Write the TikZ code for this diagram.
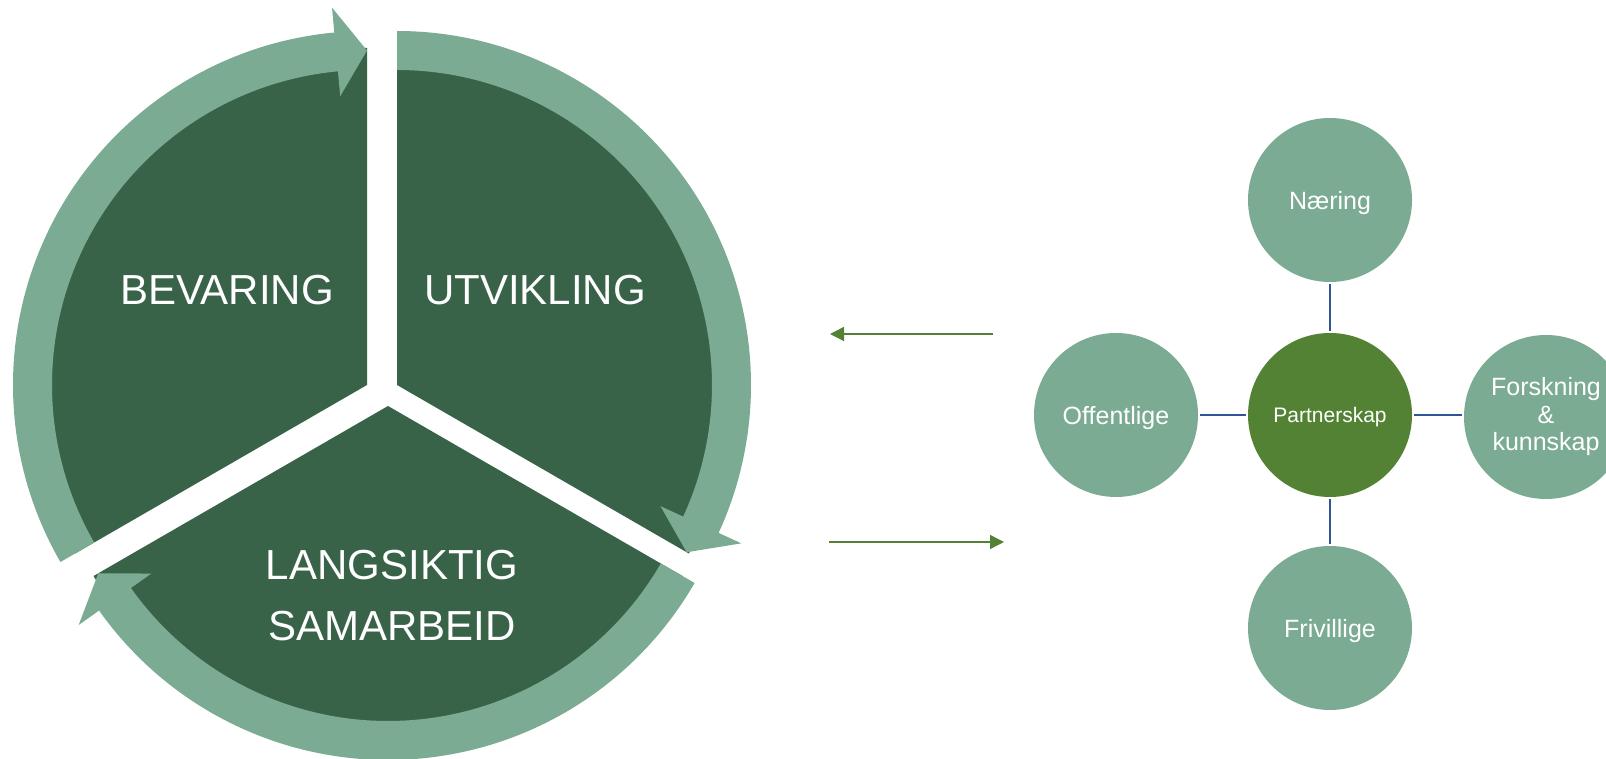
\documentclass[tikz,border=0pt]{standalone}
\usepackage{fontspec}
\setmainfont{Liberation Sans}
\usetikzlibrary{arrows.meta}
\definecolor{darkg}{RGB}{56,99,73}
\definecolor{lightg}{RGB}{123,171,146}
\definecolor{midg}{RGB}{84,130,53}
\definecolor{bluel}{RGB}{47,85,151}
\begin{document}
\begin{tikzpicture}[x=1pt,y=1pt,
  sector/.style={fill=darkg},
  ringarrow/.style={fill=lightg},
  biglabel/.style={text=white, font=\fontsize{42}{61}\selectfont, inner sep=0pt, align=center},
  partner/.style={circle, fill=lightg, minimum size=164pt, inner sep=0pt, text=white, font=\fontsize{25}{27.5}\selectfont, align=center},
  oneline/.style={text depth=0pt},
  hub/.style={partner, fill=midg, font=\fontsize{21}{23}\selectfont},
  link/.style={draw=bluel, line width=2.4pt, shorten >=2pt, shorten <=2pt},
  flow/.style={draw=midg, line width=1.4pt, -{Triangle[length=14pt,width=14pt]}}
]
\useasboundingbox (0,0) rectangle (1606,759);
% sectors
\begin{scope}[shift={(367,374)}]
  \fill[sector] (0,0) -- (90:337) arc[start angle=90,end angle=210,radius=337] -- cycle;
\end{scope}
\begin{scope}[shift={(397,374)}]
  \fill[sector] (0,0) -- (-30:337) arc[start angle=-30,end angle=90,radius=337] -- cycle;
\end{scope}
\begin{scope}[shift={(388,353)}]
  \fill[sector] (0,0) -- (210:340) arc[start angle=210,end angle=330,radius=340] -- cycle;
\end{scope}
% ring arrows
\begin{scope}[shift={(367,374)}]
  \fill[ringarrow] (210:354) arc[start angle=210,end angle=95.3,radius=354] -- (95.3:379) -- (90:334.5) -- (95.3:290) -- (95.3:315) arc[start angle=95.3,end angle=210,radius=315] -- cycle;
\end{scope}
\begin{scope}[shift={(397,374)}]
  \fill[ringarrow] (90:354) arc[start angle=90,end angle=-24.7,radius=354] -- (-24.7:379) -- (-30:334.5) -- (-24.7:290) -- (-24.7:315) arc[start angle=-24.7,end angle=90,radius=315] -- cycle;
\end{scope}
\begin{scope}[shift={(388,353)}]
  \fill[ringarrow] (330:354) arc[start angle=330,end angle=215.3,radius=354] -- (215.3:379) -- (210:334.5) -- (215.3:290) -- (215.3:315) arc[start angle=215.3,end angle=330,radius=315] -- cycle;
\end{scope}
% labels
\node[biglabel, anchor=base] (bev) at (227,454) {BEVARING};
\node[biglabel, anchor=base] (utv) at (535,454) {UTVIKLING};
\node[biglabel, anchor=base] (lang) at (392,118) {LANGSIKTIG\\SAMARBEID};
% flow arrows
\coordinate (a1s) at (993,425);
\coordinate (a1e) at (830,425);
\coordinate (a2s) at (829,217);
\coordinate (a2e) at (1004,217);
\draw[flow] (a1s) -- (a1e);
\draw[flow] (a2s) -- (a2e);
% partnership
\node[hub, oneline] (hub) at (1330,344) {Partnerskap};
\node[partner, oneline] (naer) at (1330,559) {Næring};
\node[partner, oneline] (off) at (1116,344) {Offentlige};
\node[partner] (fors) at (1546,342) {Forskning\\\&\\kunnskap};
\node[partner, oneline] (friv) at (1330,131) {Frivillige};
\draw[link] (naer) -- (hub);
\draw[link] (off) -- (hub);
\draw[link] (hub.east) -- (hub.east -| fors.west);
\draw[link] (hub) -- (friv);
\end{tikzpicture}
\end{document}
